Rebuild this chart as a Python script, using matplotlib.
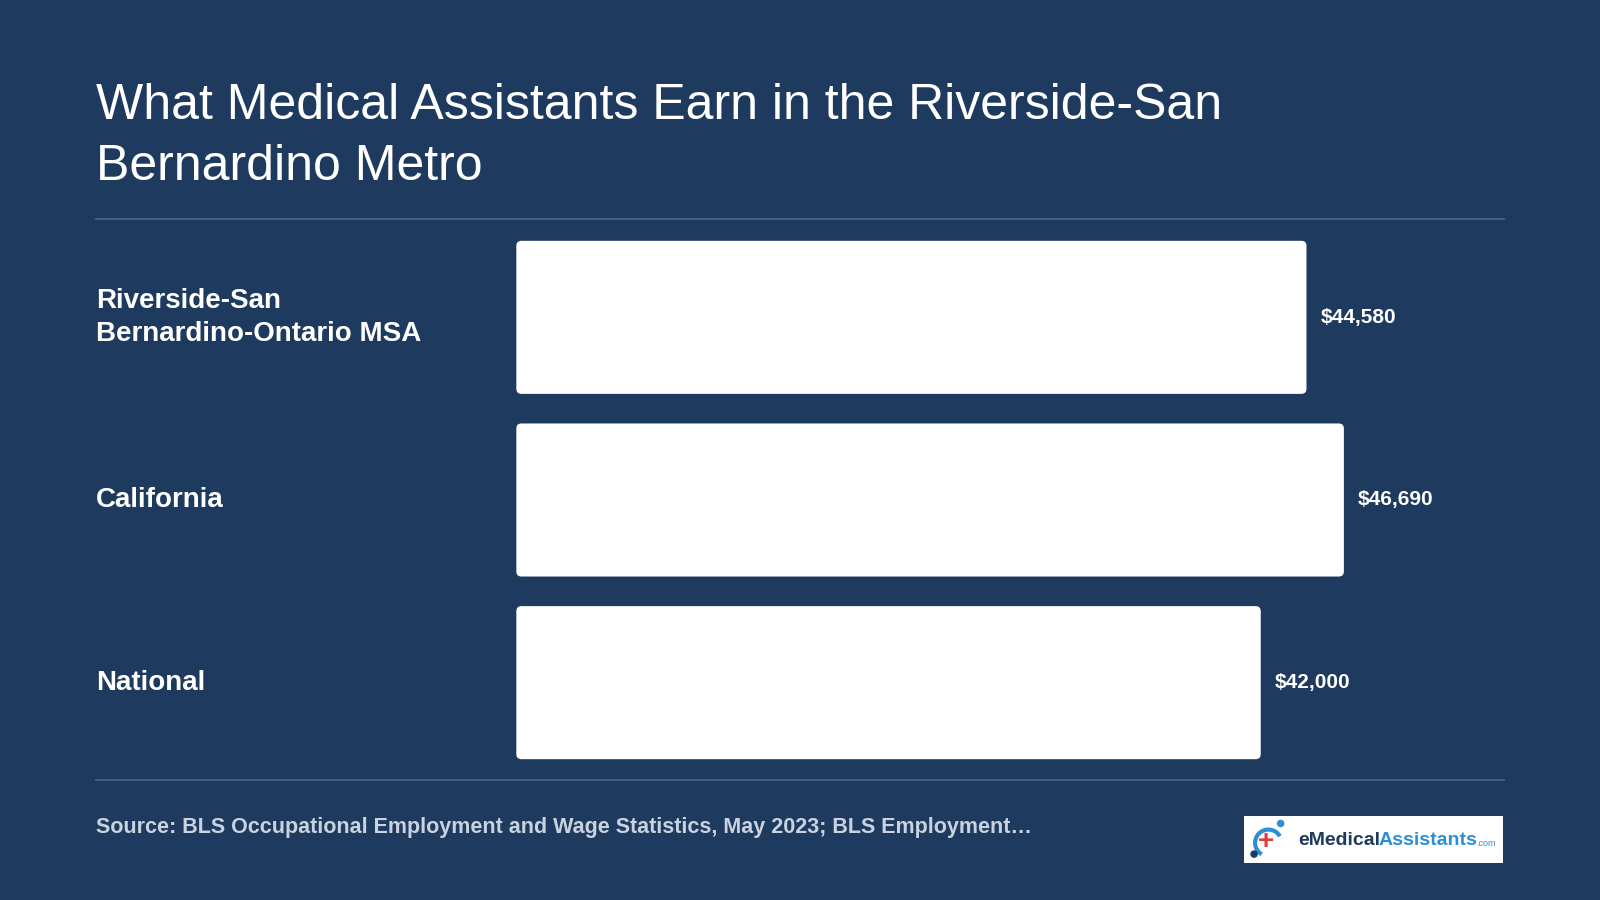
import matplotlib.pyplot as plt
from matplotlib.patches import FancyBboxPatch, Arc, Circle

categories = ["Riverside-San\nBernardino-Ontario MSA", "California", "National"]
wages = [44580, 46690, 42000]
wage_labels = ["$44,580", "$46,690", "$42,000"]

W, H = 1568, 882
bg = "#1f3a5f"
fig = plt.figure(figsize=(16, 9), dpi=100)
fig.patch.set_facecolor(bg)
plt.rcParams['font.family'] = ['Liberation Sans', 'DejaVu Sans']

def fx(px):
    return px / W

def fy(py):
    return 1 - py / H

# title and rules
fig.text(fx(94), fy(134), "What Medical Assistants Earn in the Riverside-San\nBernardino Metro",
         color="white", fontsize=36, va="center", linespacing=1.42)
for yy in (215, 764):
    fig.add_artist(plt.Line2D([fx(94), fx(1474)], [fy(yy), fy(yy)], color="#4a6385", lw=1.3))

# bars area
left, right, top, bottom = 506, 1474, 221.5, 758.5
ax = fig.add_axes([fx(left), fy(bottom), fx(right - left), (bottom - top) / H])
ax.set_facecolor(bg)
xmax = (right - left) / ((1317 - 506) / 46690)
ax.set_xlim(0, xmax)
ax.set_ylim(len(categories) - 0.5, -0.5)
ax.axis("off")

bh = 150 / 179
bars = ax.barh(range(len(categories)), wages, height=bh, color="white")
xpx = (right - left) / xmax
ypx = (bottom - top) / 3
for b in bars:
    b.set_visible(False)
    x0, y0 = b.get_x(), b.get_y()
    w, h = b.get_width(), b.get_height()
    r = 5 / xpx
    ax.add_patch(FancyBboxPatch((x0, y0), w, h, boxstyle=f"round,pad=0,rounding_size={r}",
                                mutation_aspect=xpx / ypx, fc="white", ec="none"))

for i, (v, lab) in enumerate(zip(wages, wage_labels)):
    ax.text(v + 14 / xpx, i, lab, color="white", fontsize=15, fontweight="bold", va="center")
    fig.text(fx(94), fy(311 + 179 * i), categories[i], color="white", fontsize=20,
             fontweight="bold", va="center", linespacing=1.35)

fig.text(fx(94), fy(811), "Source: BLS Occupational Employment and Wage Statistics, May 2023; BLS Employment\u2026",
         color="#c9d2de", fontsize=15.5, fontweight="bold", va="center")

# logo
lax = fig.add_axes([fx(1219), fy(846), fx(254), 46 / H])
lax.set_xlim(0, 254)
lax.set_ylim(46, 0)
lax.set_facecolor("white")
lax.set_xticks([])
lax.set_yticks([])
for s in lax.spines.values():
    s.set_visible(False)
lax.add_patch(Arc((24, 26), 26, 26, theta1=120, theta2=330, color="#2a8fd6", lw=3))
lax.add_patch(Circle((36, 7), 3, color="#2a8fd6"))
lax.add_patch(Circle((10, 37), 3, color="#1f3a5f"))
lax.text(22, 25, "+", color="#e03a3a", fontsize=20, fontweight="bold", ha="center", va="center")
lax.text(53, 24, "eMedical", color="#1f3a5f", fontsize=14, fontweight="bold", va="center")
lax.text(132, 24, "Assistants", color="#2a8fd6", fontsize=14, fontweight="bold", va="center")
lax.text(228, 27, ".com", color="#2a8fd6", fontsize=6.5, va="center")

fig.savefig("out.png", facecolor=bg)
